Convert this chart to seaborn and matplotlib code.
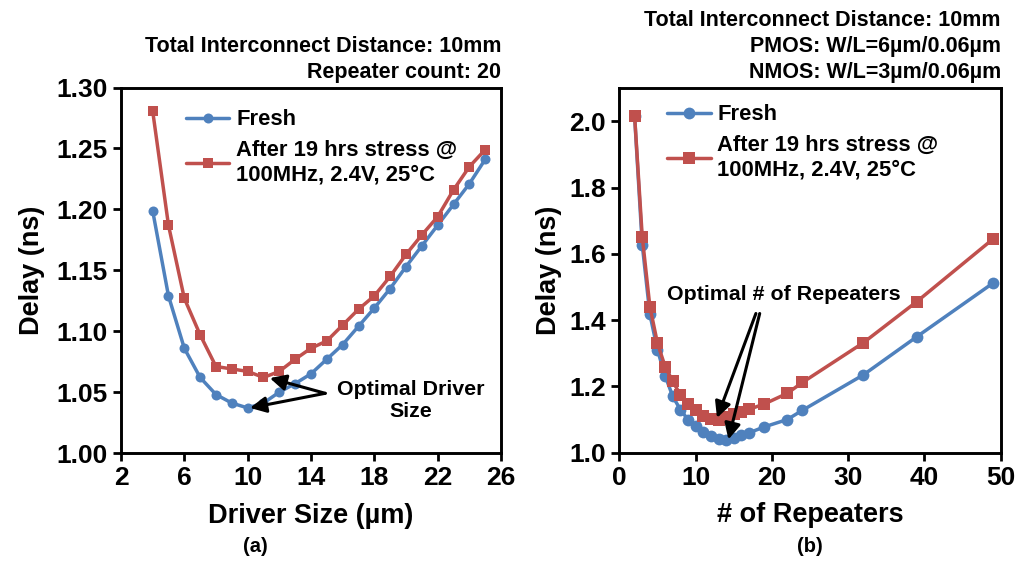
import numpy as np
import pandas as pd
import matplotlib
matplotlib.use("Agg")
import matplotlib.pyplot as plt
import seaborn as sns

# ---------------- data ----------------
series_names = ["Fresh", "After 19 hrs stress @\n100MHz, 2.4V, 25°C"]

driver_size = [4, 5, 6, 7, 8, 9, 10, 11, 12, 13, 14, 15, 16, 17, 18, 19, 20, 21, 22, 23, 24, 25]
fresh_a = [1.199, 1.129, 1.086, 1.062, 1.048, 1.041, 1.037, 1.041, 1.050, 1.057, 1.065, 1.077,
           1.089, 1.104, 1.119, 1.135, 1.153, 1.170, 1.187, 1.204, 1.221, 1.241]
stress_a = [1.281, 1.187, 1.127, 1.097, 1.071, 1.069, 1.067, 1.062, 1.067, 1.077, 1.086, 1.092,
            1.105, 1.118, 1.129, 1.145, 1.163, 1.179, 1.194, 1.216, 1.235, 1.249]

repeaters = [2, 3, 4, 5, 6, 7, 8, 9, 10, 11, 12, 13, 14, 15, 16, 17, 19, 22, 24, 32, 39, 49]
fresh_b = [2.015, 1.628, 1.418, 1.310, 1.232, 1.170, 1.130, 1.100, 1.080, 1.063, 1.050, 1.040,
           1.037, 1.045, 1.053, 1.060, 1.078, 1.100, 1.128, 1.235, 1.350, 1.512]
stress_b = [2.017, 1.652, 1.441, 1.330, 1.260, 1.215, 1.175, 1.148, 1.128, 1.112, 1.101, 1.100,
            1.108, 1.116, 1.123, 1.131, 1.147, 1.179, 1.212, 1.332, 1.456, 1.645]

xticks_a = [2, 6, 10, 14, 18, 22, 26]
yticks_a = [1.00, 1.05, 1.10, 1.15, 1.20, 1.25, 1.30]
xticks_b = [0, 10, 20, 30, 40, 50]
yticks_b = [1.0, 1.2, 1.4, 1.6, 1.8, 2.0]

title_a = "Total Interconnect Distance: 10mm\nRepeater count: 20"
title_b = "Total Interconnect Distance: 10mm\nPMOS: W/L=6µm/0.06µm\nNMOS: W/L=3µm/0.06µm"

# ---------------- style ----------------
sns.set_theme(style="ticks")
plt.rcParams["font.family"] = ["Liberation Sans", "DejaVu Sans"]
plt.rcParams["font.weight"] = "bold"
plt.rcParams["axes.labelweight"] = "bold"
for k in ("text.color", "axes.labelcolor", "xtick.color", "ytick.color", "axes.edgecolor"):
    plt.rcParams[k] = "black"

blue = "#4F81BD"
red = "#C0504D"
palette = {series_names[0]: blue, series_names[1]: red}
markers = {series_names[0]: "o", series_names[1]: "s"}

df_a = pd.DataFrame({
    "x": driver_size * 2,
    "y": fresh_a + stress_a,
    "series": [series_names[0]] * len(driver_size) + [series_names[1]] * len(driver_size),
})
df_b = pd.DataFrame({
    "x": repeaters * 2,
    "y": fresh_b + stress_b,
    "series": [series_names[0]] * len(repeaters) + [series_names[1]] * len(repeaters),
})

fig = plt.figure(figsize=(10.19, 5.61), dpi=100)
ax1 = fig.add_axes([0.1187, 0.1925, 0.373, 0.6515])
ax2 = fig.add_axes([0.6078, 0.193, 0.3743, 0.650])

TICK_FS = 19
LABEL_FS = 19.5


def draw(ax, df, msize, ylabelpad):
    sns.lineplot(data=df, x="x", y="y", hue="series", style="series",
                 hue_order=series_names, style_order=series_names,
                 palette=palette, markers=markers, dashes=False,
                 linewidth=2.5, markersize=msize, markeredgewidth=0,
                 ax=ax, legend=True)
    for s in ax.spines.values():
        s.set_linewidth(2.1)
        s.set_color("black")
        s.set_visible(True)
    ax.tick_params(axis="both", direction="out", length=6, width=2.0,
                   labelsize=TICK_FS, colors="black")
    ax.set_ylabel("Delay (ns)", fontsize=LABEL_FS, fontweight="bold", labelpad=ylabelpad)


draw(ax1, df_a, 7.2, 8)
draw(ax2, df_b, 8.5, 5)

ax1.set_xlim(2, 26)
ax1.set_ylim(1.00, 1.30)
ax1.set_xticks(xticks_a)
ax1.set_yticks(yticks_a)
ax1.set_yticklabels([f"{v:.2f}" for v in yticks_a])
ax1.set_xlabel("Driver Size (µm)", fontsize=LABEL_FS, fontweight="bold", labelpad=9)

ax2.set_xlim(0, 50)
ax2.set_ylim(1.0, 2.1)
ax2.set_xticks(xticks_b)
ax2.set_yticks(yticks_b)
ax2.set_yticklabels([f"{v:.1f}" for v in yticks_b])
ax2.set_xlabel("# of Repeaters", fontsize=LABEL_FS, fontweight="bold", labelpad=9)

for ax in (ax1, ax2):
    for lab in ax.get_xticklabels() + ax.get_yticklabels():
        lab.set_fontweight("bold")
        lab.set_fontsize(TICK_FS)

# legends
for ax, anchor in ((ax1, (0.17, 0.94)), (ax2, (0.125, 0.955))):
    h, l = ax.get_legend_handles_labels()
    ax.legend(h, l, loc="upper left", bbox_to_anchor=anchor, frameon=False,
              borderaxespad=0, borderpad=0, handlelength=2.0, handletextpad=0.3,
              labelspacing=0.45, prop={"size": 15.8, "weight": "bold"})

# titles
ax1.text(1.0, 1.012, title_a, transform=ax1.transAxes, ha="right", va="bottom",
         multialignment="right", fontsize=15.5, fontweight="bold", linespacing=1.3)
ax2.text(1.0, 1.015, title_b, transform=ax2.transAxes, ha="right", va="bottom",
         multialignment="right", fontsize=15.5, fontweight="bold", linespacing=1.3)

# annotations
arrow_kw = dict(arrowstyle="-|>", color="black", lw=2.2, mutation_scale=24,
                shrinkA=0, shrinkB=0)
ax1.text(20.3, 1.043, "Optimal Driver\nSize", ha="center", va="center",
         fontsize=15.4, fontweight="bold", multialignment="center")
ax1.annotate("", xy=(11.4, 1.0615), xytext=(14.9, 1.049), arrowprops=arrow_kw)
ax1.annotate("", xy=(10.15, 1.037), xytext=(14.9, 1.049), arrowprops=arrow_kw)

ax2.text(21.5, 1.476, "Optimal # of Repeaters", ha="center", va="center",
         fontsize=15.4, fontweight="bold")
ax2.annotate("", xy=(12.8, 1.105), xytext=(17.9, 1.42), arrowprops=arrow_kw)
ax2.annotate("", xy=(14.3, 1.04), xytext=(18.4, 1.42), arrowprops=arrow_kw)

fig.text(255 / 1019, 1 - 546 / 561, "(a)", ha="center", va="center",
         fontsize=14.5, fontweight="bold")
fig.text(810 / 1019, 1 - 546 / 561, "(b)", ha="center", va="center",
         fontsize=14.5, fontweight="bold")

fig.savefig("out.png", dpi=100)
